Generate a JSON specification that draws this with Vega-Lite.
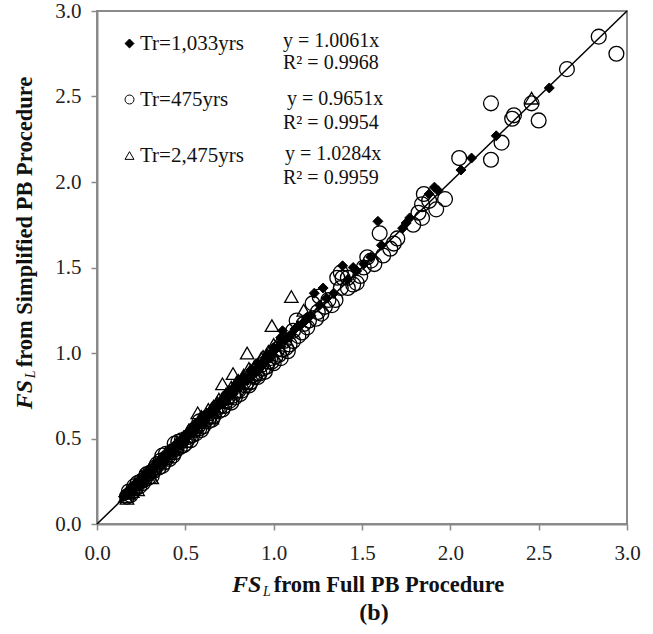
{
  "$schema": "https://vega.github.io/schema/vega-lite/v6.json",
  "width": 530,
  "height": 513,
  "autosize": {"type": "none"},
  "padding": {"left": 97, "top": 11, "right": 26, "bottom": 110},
  "background": "white",
  "title": {"text": "(b)", "orient": "bottom", "anchor": "middle", "font": "Liberation Serif", "fontSize": 24, "fontWeight": "bold", "color": "#111", "offset": 2, "dx": 12},
  "datasets": {
    "pts": [
      {"Series":"Tr=475yrs","x":0.17,"y":0.16},{"Series":"Tr=475yrs","x":0.18,"y":0.19},{"Series":"Tr=475yrs","x":0.20,"y":0.19},{"Series":"Tr=475yrs","x":0.22,"y":0.21},{"Series":"Tr=475yrs","x":0.24,"y":0.22},{"Series":"Tr=475yrs","x":0.25,"y":0.25},{"Series":"Tr=475yrs","x":0.27,"y":0.26},{"Series":"Tr=475yrs","x":0.29,"y":0.27},{"Series":"Tr=475yrs","x":0.30,"y":0.30},{"Series":"Tr=475yrs","x":0.32,"y":0.31},{"Series":"Tr=475yrs","x":0.33,"y":0.33},{"Series":"Tr=475yrs","x":0.35,"y":0.33},{"Series":"Tr=475yrs","x":0.36,"y":0.37},{"Series":"Tr=475yrs","x":0.37,"y":0.40},{"Series":"Tr=475yrs","x":0.38,"y":0.36},{"Series":"Tr=475yrs","x":0.40,"y":0.39},{"Series":"Tr=475yrs","x":0.41,"y":0.38},{"Series":"Tr=475yrs","x":0.42,"y":0.42},{"Series":"Tr=475yrs","x":0.44,"y":0.42},{"Series":"Tr=475yrs","x":0.44,"y":0.47},{"Series":"Tr=475yrs","x":0.45,"y":0.44},{"Series":"Tr=475yrs","x":0.47,"y":0.45},{"Series":"Tr=475yrs","x":0.48,"y":0.49},{"Series":"Tr=475yrs","x":0.49,"y":0.46},{"Series":"Tr=475yrs","x":0.51,"y":0.49},{"Series":"Tr=475yrs","x":0.52,"y":0.51},{"Series":"Tr=475yrs","x":0.54,"y":0.52},{"Series":"Tr=475yrs","x":0.55,"y":0.55},{"Series":"Tr=475yrs","x":0.56,"y":0.53},{"Series":"Tr=475yrs","x":0.58,"y":0.56},{"Series":"Tr=475yrs","x":0.58,"y":0.60},{"Series":"Tr=475yrs","x":0.60,"y":0.57},{"Series":"Tr=475yrs","x":0.61,"y":0.60},{"Series":"Tr=475yrs","x":0.63,"y":0.60},{"Series":"Tr=475yrs","x":0.64,"y":0.63},{"Series":"Tr=475yrs","x":0.66,"y":0.63},{"Series":"Tr=475yrs","x":0.67,"y":0.66},{"Series":"Tr=475yrs","x":0.69,"y":0.66},{"Series":"Tr=475yrs","x":0.70,"y":0.69},{"Series":"Tr=475yrs","x":0.72,"y":0.69},{"Series":"Tr=475yrs","x":0.73,"y":0.72},{"Series":"Tr=475yrs","x":0.75,"y":0.72},{"Series":"Tr=475yrs","x":0.77,"y":0.75},{"Series":"Tr=475yrs","x":0.78,"y":0.74},{"Series":"Tr=475yrs","x":0.80,"y":0.78},{"Series":"Tr=475yrs","x":0.82,"y":0.78},{"Series":"Tr=475yrs","x":0.84,"y":0.81},{"Series":"Tr=475yrs","x":0.85,"y":0.83},{"Series":"Tr=475yrs","x":0.87,"y":0.83},{"Series":"Tr=475yrs","x":0.89,"y":0.86},{"Series":"Tr=475yrs","x":0.90,"y":0.88},{"Series":"Tr=475yrs","x":0.92,"y":0.88},{"Series":"Tr=475yrs","x":0.94,"y":0.91},{"Series":"Tr=475yrs","x":0.96,"y":0.92},{"Series":"Tr=475yrs","x":0.97,"y":0.95},{"Series":"Tr=475yrs","x":0.99,"y":0.95},{"Series":"Tr=475yrs","x":1.01,"y":0.98},{"Series":"Tr=475yrs","x":1.03,"y":0.99},{"Series":"Tr=475yrs","x":1.05,"y":1.02},{"Series":"Tr=475yrs","x":1.07,"y":1.03},{"Series":"Tr=475yrs","x":1.09,"y":1.05},{"Series":"Tr=475yrs","x":1.11,"y":1.07},{"Series":"Tr=475yrs","x":1.11,"y":1.13},{"Series":"Tr=475yrs","x":1.13,"y":1.19},{"Series":"Tr=475yrs","x":1.16,"y":1.12},{"Series":"Tr=475yrs","x":1.17,"y":1.17},{"Series":"Tr=475yrs","x":1.19,"y":1.15},{"Series":"Tr=475yrs","x":1.22,"y":1.29},{"Series":"Tr=475yrs","x":1.24,"y":1.20},{"Series":"Tr=475yrs","x":1.26,"y":1.33},{"Series":"Tr=475yrs","x":1.27,"y":1.23},{"Series":"Tr=475yrs","x":1.29,"y":1.27},{"Series":"Tr=475yrs","x":1.31,"y":1.31},{"Series":"Tr=475yrs","x":1.33,"y":1.28},{"Series":"Tr=475yrs","x":1.35,"y":1.31},{"Series":"Tr=475yrs","x":1.36,"y":1.44},{"Series":"Tr=475yrs","x":1.38,"y":1.47},{"Series":"Tr=475yrs","x":1.38,"y":1.38},{"Series":"Tr=475yrs","x":1.39,"y":1.44},{"Series":"Tr=475yrs","x":1.42,"y":1.44},{"Series":"Tr=475yrs","x":1.42,"y":1.38},{"Series":"Tr=475yrs","x":1.45,"y":1.40},{"Series":"Tr=475yrs","x":1.47,"y":1.41},{"Series":"Tr=475yrs","x":1.49,"y":1.45},{"Series":"Tr=475yrs","x":1.51,"y":1.50},{"Series":"Tr=475yrs","x":1.53,"y":1.56},{"Series":"Tr=475yrs","x":1.55,"y":1.54},{"Series":"Tr=475yrs","x":1.57,"y":1.52},{"Series":"Tr=475yrs","x":1.60,"y":1.70},{"Series":"Tr=475yrs","x":1.62,"y":1.57},{"Series":"Tr=475yrs","x":1.66,"y":1.61},{"Series":"Tr=475yrs","x":1.68,"y":1.64},{"Series":"Tr=475yrs","x":1.70,"y":1.67},{"Series":"Tr=475yrs","x":1.79,"y":1.75},{"Series":"Tr=475yrs","x":1.82,"y":1.82},{"Series":"Tr=475yrs","x":1.84,"y":1.79},{"Series":"Tr=475yrs","x":1.84,"y":1.87},{"Series":"Tr=475yrs","x":1.85,"y":1.93},{"Series":"Tr=475yrs","x":1.88,"y":1.89},{"Series":"Tr=475yrs","x":1.92,"y":1.84},{"Series":"Tr=475yrs","x":1.97,"y":1.90},{"Series":"Tr=475yrs","x":2.05,"y":2.14},{"Series":"Tr=475yrs","x":2.23,"y":2.13},{"Series":"Tr=475yrs","x":2.23,"y":2.46},{"Series":"Tr=475yrs","x":2.29,"y":2.23},{"Series":"Tr=475yrs","x":2.35,"y":2.37},{"Series":"Tr=475yrs","x":2.36,"y":2.39},{"Series":"Tr=475yrs","x":2.46,"y":2.46},{"Series":"Tr=475yrs","x":2.50,"y":2.36},{"Series":"Tr=475yrs","x":2.66,"y":2.66},{"Series":"Tr=475yrs","x":2.84,"y":2.85},{"Series":"Tr=475yrs","x":2.94,"y":2.75},
      {"Series":"Tr=475yrs","x":0.19,"y":0.17},{"Series":"Tr=475yrs","x":0.21,"y":0.22},{"Series":"Tr=475yrs","x":0.23,"y":0.24},{"Series":"Tr=475yrs","x":0.26,"y":0.24},{"Series":"Tr=475yrs","x":0.28,"y":0.29},{"Series":"Tr=475yrs","x":0.31,"y":0.28},{"Series":"Tr=475yrs","x":0.34,"y":0.35},{"Series":"Tr=475yrs","x":0.37,"y":0.34},{"Series":"Tr=475yrs","x":0.39,"y":0.41},{"Series":"Tr=475yrs","x":0.43,"y":0.40},{"Series":"Tr=475yrs","x":0.46,"y":0.48},{"Series":"Tr=475yrs","x":0.50,"y":0.47},{"Series":"Tr=475yrs","x":0.53,"y":0.49},{"Series":"Tr=475yrs","x":0.57,"y":0.57},{"Series":"Tr=475yrs","x":0.59,"y":0.55},{"Series":"Tr=475yrs","x":0.62,"y":0.62},{"Series":"Tr=475yrs","x":0.65,"y":0.61},{"Series":"Tr=475yrs","x":0.68,"y":0.68},{"Series":"Tr=475yrs","x":0.71,"y":0.67},{"Series":"Tr=475yrs","x":0.74,"y":0.74},{"Series":"Tr=475yrs","x":0.76,"y":0.71},{"Series":"Tr=475yrs","x":0.79,"y":0.78},{"Series":"Tr=475yrs","x":0.81,"y":0.76},{"Series":"Tr=475yrs","x":0.83,"y":0.83},{"Series":"Tr=475yrs","x":0.86,"y":0.81},{"Series":"Tr=475yrs","x":0.88,"y":0.87},{"Series":"Tr=475yrs","x":0.91,"y":0.86},{"Series":"Tr=475yrs","x":0.93,"y":0.93},{"Series":"Tr=475yrs","x":0.95,"y":0.89},{"Series":"Tr=475yrs","x":0.98,"y":0.97},{"Series":"Tr=475yrs","x":1.00,"y":0.94},{"Series":"Tr=475yrs","x":1.02,"y":1.02},{"Series":"Tr=475yrs","x":1.04,"y":0.97},{"Series":"Tr=475yrs","x":1.06,"y":1.07},{"Series":"Tr=475yrs","x":1.08,"y":1.01},{"Series":"Tr=475yrs","x":1.14,"y":1.10},{"Series":"Tr=475yrs","x":1.20,"y":1.19},{"Series":"Tr=475yrs","x":1.25,"y":1.24},
      {"Series":"Tr=2,475yrs","x":0.16,"y":0.16},{"Series":"Tr=2,475yrs","x":0.17,"y":0.15},{"Series":"Tr=2,475yrs","x":0.18,"y":0.18},{"Series":"Tr=2,475yrs","x":0.20,"y":0.19},{"Series":"Tr=2,475yrs","x":0.21,"y":0.21},{"Series":"Tr=2,475yrs","x":0.23,"y":0.20},{"Series":"Tr=2,475yrs","x":0.24,"y":0.25},{"Series":"Tr=2,475yrs","x":0.26,"y":0.27},{"Series":"Tr=2,475yrs","x":0.28,"y":0.29},{"Series":"Tr=2,475yrs","x":0.30,"y":0.31},{"Series":"Tr=2,475yrs","x":0.31,"y":0.27},{"Series":"Tr=2,475yrs","x":0.33,"y":0.35},{"Series":"Tr=2,475yrs","x":0.35,"y":0.36},{"Series":"Tr=2,475yrs","x":0.37,"y":0.39},{"Series":"Tr=2,475yrs","x":0.39,"y":0.40},{"Series":"Tr=2,475yrs","x":0.41,"y":0.43},{"Series":"Tr=2,475yrs","x":0.43,"y":0.44},{"Series":"Tr=2,475yrs","x":0.45,"y":0.47},{"Series":"Tr=2,475yrs","x":0.47,"y":0.48},{"Series":"Tr=2,475yrs","x":0.49,"y":0.51},{"Series":"Tr=2,475yrs","x":0.51,"y":0.53},{"Series":"Tr=2,475yrs","x":0.53,"y":0.55},{"Series":"Tr=2,475yrs","x":0.55,"y":0.57},{"Series":"Tr=2,475yrs","x":0.57,"y":0.65},{"Series":"Tr=2,475yrs","x":0.58,"y":0.60},{"Series":"Tr=2,475yrs","x":0.60,"y":0.62},{"Series":"Tr=2,475yrs","x":0.62,"y":0.64},{"Series":"Tr=2,475yrs","x":0.63,"y":0.67},{"Series":"Tr=2,475yrs","x":0.65,"y":0.62},{"Series":"Tr=2,475yrs","x":0.66,"y":0.69},{"Series":"Tr=2,475yrs","x":0.68,"y":0.71},{"Series":"Tr=2,475yrs","x":0.71,"y":0.82},{"Series":"Tr=2,475yrs","x":0.72,"y":0.74},{"Series":"Tr=2,475yrs","x":0.74,"y":0.77},{"Series":"Tr=2,475yrs","x":0.77,"y":0.88},{"Series":"Tr=2,475yrs","x":0.78,"y":0.81},{"Series":"Tr=2,475yrs","x":0.80,"y":0.84},{"Series":"Tr=2,475yrs","x":0.82,"y":0.85},{"Series":"Tr=2,475yrs","x":0.85,"y":1.00},{"Series":"Tr=2,475yrs","x":0.87,"y":0.90},{"Series":"Tr=2,475yrs","x":0.90,"y":0.93},{"Series":"Tr=2,475yrs","x":0.93,"y":0.97},{"Series":"Tr=2,475yrs","x":0.96,"y":0.99},{"Series":"Tr=2,475yrs","x":0.99,"y":1.16},{"Series":"Tr=2,475yrs","x":1.00,"y":1.05},{"Series":"Tr=2,475yrs","x":1.03,"y":1.07},{"Series":"Tr=2,475yrs","x":1.06,"y":1.10},{"Series":"Tr=2,475yrs","x":1.10,"y":1.33},{"Series":"Tr=2,475yrs","x":1.17,"y":1.25},{"Series":"Tr=2,475yrs","x":2.46,"y":2.49},
      {"Series":"Tr=2,475yrs","x":0.19,"y":0.21},{"Series":"Tr=2,475yrs","x":0.22,"y":0.23},{"Series":"Tr=2,475yrs","x":0.25,"y":0.28},{"Series":"Tr=2,475yrs","x":0.29,"y":0.30},{"Series":"Tr=2,475yrs","x":0.32,"y":0.34},{"Series":"Tr=2,475yrs","x":0.36,"y":0.38},{"Series":"Tr=2,475yrs","x":0.40,"y":0.42},{"Series":"Tr=2,475yrs","x":0.44,"y":0.45},{"Series":"Tr=2,475yrs","x":0.48,"y":0.50},{"Series":"Tr=2,475yrs","x":0.52,"y":0.55},{"Series":"Tr=2,475yrs","x":0.56,"y":0.58},{"Series":"Tr=2,475yrs","x":0.59,"y":0.63},{"Series":"Tr=2,475yrs","x":0.64,"y":0.66},{"Series":"Tr=2,475yrs","x":0.69,"y":0.73},{"Series":"Tr=2,475yrs","x":0.73,"y":0.76},{"Series":"Tr=2,475yrs","x":0.76,"y":0.80},{"Series":"Tr=2,475yrs","x":0.79,"y":0.83},{"Series":"Tr=2,475yrs","x":0.83,"y":0.87},{"Series":"Tr=2,475yrs","x":0.86,"y":0.91},{"Series":"Tr=2,475yrs","x":0.89,"y":0.92},{"Series":"Tr=2,475yrs","x":0.94,"y":0.98},{"Series":"Tr=2,475yrs","x":0.97,"y":1.01},
      {"Series":"Tr=1,033yrs","x":0.15,"y":0.16},{"Series":"Tr=1,033yrs","x":0.17,"y":0.17},{"Series":"Tr=1,033yrs","x":0.18,"y":0.19},{"Series":"Tr=1,033yrs","x":0.20,"y":0.20},{"Series":"Tr=1,033yrs","x":0.21,"y":0.22},{"Series":"Tr=1,033yrs","x":0.23,"y":0.23},{"Series":"Tr=1,033yrs","x":0.24,"y":0.25},{"Series":"Tr=1,033yrs","x":0.26,"y":0.26},{"Series":"Tr=1,033yrs","x":0.27,"y":0.28},{"Series":"Tr=1,033yrs","x":0.29,"y":0.29},{"Series":"Tr=1,033yrs","x":0.30,"y":0.31},{"Series":"Tr=1,033yrs","x":0.32,"y":0.32},{"Series":"Tr=1,033yrs","x":0.33,"y":0.34},{"Series":"Tr=1,033yrs","x":0.35,"y":0.35},{"Series":"Tr=1,033yrs","x":0.36,"y":0.37},{"Series":"Tr=1,033yrs","x":0.38,"y":0.38},{"Series":"Tr=1,033yrs","x":0.39,"y":0.40},{"Series":"Tr=1,033yrs","x":0.41,"y":0.41},{"Series":"Tr=1,033yrs","x":0.42,"y":0.43},{"Series":"Tr=1,033yrs","x":0.44,"y":0.44},{"Series":"Tr=1,033yrs","x":0.45,"y":0.46},{"Series":"Tr=1,033yrs","x":0.47,"y":0.47},{"Series":"Tr=1,033yrs","x":0.48,"y":0.49},{"Series":"Tr=1,033yrs","x":0.50,"y":0.50},{"Series":"Tr=1,033yrs","x":0.51,"y":0.52},{"Series":"Tr=1,033yrs","x":0.53,"y":0.53},{"Series":"Tr=1,033yrs","x":0.54,"y":0.55},{"Series":"Tr=1,033yrs","x":0.56,"y":0.56},{"Series":"Tr=1,033yrs","x":0.57,"y":0.58},{"Series":"Tr=1,033yrs","x":0.59,"y":0.59},{"Series":"Tr=1,033yrs","x":0.60,"y":0.61},{"Series":"Tr=1,033yrs","x":0.62,"y":0.62},{"Series":"Tr=1,033yrs","x":0.63,"y":0.64},{"Series":"Tr=1,033yrs","x":0.65,"y":0.65},{"Series":"Tr=1,033yrs","x":0.66,"y":0.67},{"Series":"Tr=1,033yrs","x":0.68,"y":0.68},{"Series":"Tr=1,033yrs","x":0.69,"y":0.70},{"Series":"Tr=1,033yrs","x":0.71,"y":0.71},{"Series":"Tr=1,033yrs","x":0.72,"y":0.73},{"Series":"Tr=1,033yrs","x":0.74,"y":0.74},{"Series":"Tr=1,033yrs","x":0.76,"y":0.77},{"Series":"Tr=1,033yrs","x":0.78,"y":0.78},{"Series":"Tr=1,033yrs","x":0.80,"y":0.81},{"Series":"Tr=1,033yrs","x":0.82,"y":0.82},{"Series":"Tr=1,033yrs","x":0.84,"y":0.85},{"Series":"Tr=1,033yrs","x":0.86,"y":0.86},{"Series":"Tr=1,033yrs","x":0.88,"y":0.89},{"Series":"Tr=1,033yrs","x":0.90,"y":0.90},{"Series":"Tr=1,033yrs","x":0.92,"y":0.93},{"Series":"Tr=1,033yrs","x":0.94,"y":0.95},{"Series":"Tr=1,033yrs","x":0.97,"y":0.97},{"Series":"Tr=1,033yrs","x":0.99,"y":1.00},{"Series":"Tr=1,033yrs","x":1.01,"y":1.02},{"Series":"Tr=1,033yrs","x":1.04,"y":1.09},{"Series":"Tr=1,033yrs","x":1.05,"y":1.13},{"Series":"Tr=1,033yrs","x":1.07,"y":1.08},{"Series":"Tr=1,033yrs","x":1.10,"y":1.11},{"Series":"Tr=1,033yrs","x":1.12,"y":1.14},{"Series":"Tr=1,033yrs","x":1.16,"y":1.17},{"Series":"Tr=1,033yrs","x":1.19,"y":1.21},{"Series":"Tr=1,033yrs","x":1.21,"y":1.22},{"Series":"Tr=1,033yrs","x":1.23,"y":1.35},{"Series":"Tr=1,033yrs","x":1.26,"y":1.28},{"Series":"Tr=1,033yrs","x":1.28,"y":1.38},{"Series":"Tr=1,033yrs","x":1.30,"y":1.32},{"Series":"Tr=1,033yrs","x":1.34,"y":1.35},{"Series":"Tr=1,033yrs","x":1.39,"y":1.51},{"Series":"Tr=1,033yrs","x":1.42,"y":1.43},{"Series":"Tr=1,033yrs","x":1.45,"y":1.50},{"Series":"Tr=1,033yrs","x":1.47,"y":1.48},{"Series":"Tr=1,033yrs","x":1.51,"y":1.52},{"Series":"Tr=1,033yrs","x":1.55,"y":1.56},{"Series":"Tr=1,033yrs","x":1.59,"y":1.77},{"Series":"Tr=1,033yrs","x":1.61,"y":1.63},{"Series":"Tr=1,033yrs","x":1.73,"y":1.73},{"Series":"Tr=1,033yrs","x":1.75,"y":1.76},{"Series":"Tr=1,033yrs","x":1.77,"y":1.79},{"Series":"Tr=1,033yrs","x":1.88,"y":1.93},{"Series":"Tr=1,033yrs","x":1.91,"y":1.97},{"Series":"Tr=1,033yrs","x":1.93,"y":1.95},{"Series":"Tr=1,033yrs","x":2.06,"y":2.07},{"Series":"Tr=1,033yrs","x":2.12,"y":2.14},{"Series":"Tr=1,033yrs","x":2.26,"y":2.27},{"Series":"Tr=1,033yrs","x":2.56,"y":2.55},
      {"Series":"Tr=1,033yrs","x":0.16,"y":0.18},{"Series":"Tr=1,033yrs","x":0.19,"y":0.18},{"Series":"Tr=1,033yrs","x":0.22,"y":0.24},{"Series":"Tr=1,033yrs","x":0.25,"y":0.24},{"Series":"Tr=1,033yrs","x":0.28,"y":0.30},{"Series":"Tr=1,033yrs","x":0.31,"y":0.30},{"Series":"Tr=1,033yrs","x":0.34,"y":0.36},{"Series":"Tr=1,033yrs","x":0.37,"y":0.36},{"Series":"Tr=1,033yrs","x":0.40,"y":0.42},{"Series":"Tr=1,033yrs","x":0.43,"y":0.42},{"Series":"Tr=1,033yrs","x":0.46,"y":0.48},{"Series":"Tr=1,033yrs","x":0.49,"y":0.48},{"Series":"Tr=1,033yrs","x":0.52,"y":0.54},{"Series":"Tr=1,033yrs","x":0.55,"y":0.54},{"Series":"Tr=1,033yrs","x":0.58,"y":0.60},{"Series":"Tr=1,033yrs","x":0.61,"y":0.60},{"Series":"Tr=1,033yrs","x":0.64,"y":0.66},{"Series":"Tr=1,033yrs","x":0.67,"y":0.66},{"Series":"Tr=1,033yrs","x":0.70,"y":0.72},{"Series":"Tr=1,033yrs","x":0.73,"y":0.72},{"Series":"Tr=1,033yrs","x":0.75,"y":0.78},{"Series":"Tr=1,033yrs","x":0.77,"y":0.76},{"Series":"Tr=1,033yrs","x":0.79,"y":0.82},{"Series":"Tr=1,033yrs","x":0.81,"y":0.80},{"Series":"Tr=1,033yrs","x":0.83,"y":0.86},{"Series":"Tr=1,033yrs","x":0.85,"y":0.84},{"Series":"Tr=1,033yrs","x":0.87,"y":0.90},{"Series":"Tr=1,033yrs","x":0.89,"y":0.88},{"Series":"Tr=1,033yrs","x":0.91,"y":0.94},{"Series":"Tr=1,033yrs","x":0.93,"y":0.92},{"Series":"Tr=1,033yrs","x":0.96,"y":0.98},{"Series":"Tr=1,033yrs","x":0.98,"y":0.97},{"Series":"Tr=1,033yrs","x":1.00,"y":1.03},{"Series":"Tr=1,033yrs","x":1.03,"y":1.04},{"Series":"Tr=1,033yrs","x":1.06,"y":1.08},{"Series":"Tr=1,033yrs","x":1.09,"y":1.10},{"Series":"Tr=1,033yrs","x":1.14,"y":1.16},{"Series":"Tr=1,033yrs","x":1.18,"y":1.19}
    ]
  },
  "encoding": {
    "x": {"field": "x", "type": "quantitative", "scale": {"domain": [0, 3], "nice": false},
      "axis": {"values": [0, 0.5, 1, 1.5, 2, 2.5, 3], "format": ".1f", "title": null}},
    "y": {"field": "y", "type": "quantitative", "scale": {"domain": [0, 3], "nice": false},
      "axis": {"values": [0, 0.5, 1, 1.5, 2, 2.5, 3], "format": ".1f", "title": null}}
  },
  "layer": [
    {
      "data": {"values": [{"x": 0, "y": 0}, {"x": 3, "y": 3}]},
      "mark": {"type": "line", "color": "#000", "strokeWidth": 1.5}
    },
    {
      "data": {"name": "pts"},
      "transform": [{"filter": "datum.Series === 'Tr=475yrs'"}],
      "mark": {"type": "point", "filled": true, "size": 220, "strokeWidth": 1.3, "opacity": 1},
      "encoding": {
        "shape": {"field": "Series", "type": "nominal", "scale": {"domain": ["Tr=1,033yrs", "Tr=475yrs", "Tr=2,475yrs"], "range": ["diamond", "circle", "triangle-up"]}, "legend": {"title": null}},
        "fill": {"field": "Series", "type": "nominal", "scale": {"domain": ["Tr=1,033yrs", "Tr=475yrs", "Tr=2,475yrs"], "range": ["#000000", "rgba(0,0,0,0)", "rgba(0,0,0,0)"]}, "legend": {"title": null}},
        "stroke": {"field": "Series", "type": "nominal", "scale": {"domain": ["Tr=1,033yrs", "Tr=475yrs", "Tr=2,475yrs"], "range": ["#000000", "#000000", "#000000"]}, "legend": {"title": null}}
      }
    },
    {
      "data": {"name": "pts"},
      "transform": [{"filter": "datum.Series === 'Tr=2,475yrs'"}],
      "mark": {"type": "point", "filled": true, "size": 180, "strokeWidth": 1.3, "opacity": 1},
      "encoding": {
        "shape": {"field": "Series", "type": "nominal", "scale": {"domain": ["Tr=1,033yrs", "Tr=475yrs", "Tr=2,475yrs"], "range": ["diamond", "circle", "triangle-up"]}, "legend": {"title": null}},
        "fill": {"field": "Series", "type": "nominal", "scale": {"domain": ["Tr=1,033yrs", "Tr=475yrs", "Tr=2,475yrs"], "range": ["#000000", "rgba(0,0,0,0)", "rgba(0,0,0,0)"]}, "legend": {"title": null}},
        "stroke": {"field": "Series", "type": "nominal", "scale": {"domain": ["Tr=1,033yrs", "Tr=475yrs", "Tr=2,475yrs"], "range": ["#000000", "#000000", "#000000"]}, "legend": {"title": null}}
      }
    },
    {
      "data": {"name": "pts"},
      "transform": [{"filter": "datum.Series === 'Tr=1,033yrs'"}],
      "mark": {"type": "point", "filled": true, "size": 100, "strokeWidth": 1, "opacity": 1},
      "encoding": {
        "shape": {"field": "Series", "type": "nominal", "scale": {"domain": ["Tr=1,033yrs", "Tr=475yrs", "Tr=2,475yrs"], "range": ["diamond", "circle", "triangle-up"]}, "legend": {"title": null}},
        "fill": {"field": "Series", "type": "nominal", "scale": {"domain": ["Tr=1,033yrs", "Tr=475yrs", "Tr=2,475yrs"], "range": ["#000000", "rgba(0,0,0,0)", "rgba(0,0,0,0)"]}, "legend": {"title": null}},
        "stroke": {"field": "Series", "type": "nominal", "scale": {"domain": ["Tr=1,033yrs", "Tr=475yrs", "Tr=2,475yrs"], "range": ["#000000", "#000000", "#000000"]}, "legend": {"title": null}}
      }
    },
    {
      "data": {"values": [
        {"t": "y = 1.0061x", "x": 1.053, "y": 2.826},
        {"t": "R² = 0.9968", "x": 1.053, "y": 2.697},
        {"t": "y = 0.9651x", "x": 1.075, "y": 2.487},
        {"t": "R² = 0.9954", "x": 1.053, "y": 2.347},
        {"t": "y = 1.0284x", "x": 1.064, "y": 2.166},
        {"t": "R² = 0.9959", "x": 1.053, "y": 2.026}
      ]},
      "mark": {"type": "text", "align": "left", "baseline": "middle", "font": "Liberation Serif", "fontSize": 20, "color": "#111"},
      "encoding": {"text": {"field": "t"}}
    },
    {
      "data": {"values": [{"t": "FS", "x": 0.764, "y": -0.356}]},
      "mark": {"type": "text", "align": "left", "baseline": "middle", "font": "Liberation Serif", "fontSize": 24, "fontWeight": "bold", "fontStyle": "italic", "color": "#111"},
      "encoding": {"text": {"field": "t"}}
    },
    {
      "data": {"values": [{"t": "L", "x": 0.94, "y": -0.40}]},
      "mark": {"type": "text", "align": "left", "baseline": "middle", "font": "Liberation Serif", "fontSize": 14, "fontStyle": "italic", "color": "#111"},
      "encoding": {"text": {"field": "t"}}
    },
    {
      "data": {"values": [{"t": "from Full PB Procedure", "x": 1.0, "y": -0.356}]},
      "mark": {"type": "text", "align": "left", "baseline": "middle", "font": "Liberation Serif", "fontSize": 22.5, "fontWeight": "bold", "color": "#111"},
      "encoding": {"text": {"field": "t"}}
    },
    {
      "data": {"values": [{"t": "FS", "x": -0.407, "y": 0.671}]},
      "mark": {"type": "text", "angle": 270, "align": "left", "baseline": "middle", "font": "Liberation Serif", "fontSize": 24, "fontWeight": "bold", "fontStyle": "italic", "color": "#111"},
      "encoding": {"text": {"field": "t"}}
    },
    {
      "data": {"values": [{"t": "L", "x": -0.372, "y": 0.852}]},
      "mark": {"type": "text", "angle": 270, "align": "left", "baseline": "middle", "font": "Liberation Serif", "fontSize": 14, "fontStyle": "italic", "color": "#111"},
      "encoding": {"text": {"field": "t"}}
    },
    {
      "data": {"values": [{"t": "from Simplified PB Procedure", "x": -0.407, "y": 0.916}]},
      "mark": {"type": "text", "angle": 270, "align": "left", "baseline": "middle", "font": "Liberation Serif", "fontSize": 22.5, "fontWeight": "bold", "color": "#111"},
      "encoding": {"text": {"field": "t"}}
    }
  ],
  "config": {
    "view": {"stroke": "#8a8a8a", "strokeWidth": 2},
    "axis": {
      "grid": false,
      "labelFont": "Liberation Serif",
      "labelFontSize": 21,
      "labelColor": "#222",
      "labelFlush": false,
      "labelOverlap": false,
      "domainColor": "#8a8a8a",
      "domainWidth": 2,
      "tickColor": "#8a8a8a",
      "tickWidth": 1.5,
      "tickSize": 6
    },
    "axisX": {"labelPadding": 12},
    "axisY": {"labelPadding": 10},
    "legend": {
      "orient": "none",
      "legendX": 22,
      "legendY": 22,
      "padding": 0,
      "labelFont": "Liberation Serif",
      "labelFontSize": 21,
      "labelColor": "#111",
      "symbolSize": 80,
      "symbolStrokeWidth": 1,
      "rowPadding": 34,
      "labelOffset": 0
    }
  }
}
